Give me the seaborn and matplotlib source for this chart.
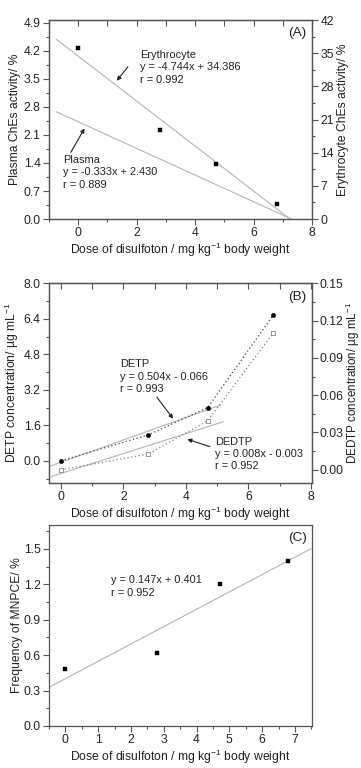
import numpy as np
import pandas as pd
import matplotlib
matplotlib.use("Agg")
import matplotlib.pyplot as plt
from matplotlib.ticker import MultipleLocator, FormatStrFormatter
import seaborn as sns

# ---------------- data ----------------
doses = [0.0, 2.8, 4.7, 6.8]
erythrocyte_activity = [36.0, 18.7, 11.7, 3.2]       # right axis, panel A
detp_conc = [0.0, 1.17, 2.40, 6.57]                  # left axis, panel B
dedtp_conc = [0.0, 0.0126, 0.0394, 0.110]            # right axis, panel B
mnpce_freq = [0.48, 0.62, 1.20, 1.40]                # panel C

# regression coefficients (slope, intercept) and x extents of fitted lines
ery_fit = (-4.744, 34.386)
plasma_fit = (-0.333, 2.430)
detp_fit = (0.504, -0.066)
dedtp_fit = (0.008, -0.003)
mnpce_fit = (0.147, 0.401)
ery_fit_x = [-0.75, 34.386 / 4.744]
plasma_fit_x = [-0.75, 2.430 / 0.333]
detp_fit_x = [-0.38, 5.12]
dedtp_fit_x = [-0.38, 5.2]
mnpce_fit_x = [-0.5, 7.5]

xlabel = "Dose of disulfoton / mg kg$^{-1}$ body weight"

sns.set_style("ticks")
plt.rcParams["font.family"] = ["Liberation Sans", "DejaVu Sans"]
plt.rcParams["mathtext.fontset"] = "custom"
plt.rcParams["mathtext.rm"] = "Liberation Sans"
plt.rcParams["mathtext.it"] = "Liberation Sans"
FS = 8.7
NFS = 7.9
SPINE = "#555555"
FITC = "#b4b4b4"
TXT = "#222222"

fig = plt.figure(figsize=(3.61, 7.68), dpi=100)


def fit_df(coef, xs):
    xs = np.array(xs, dtype=float)
    return pd.DataFrame({"x": xs, "y": coef[0] * xs + coef[1]})


def style_axis(ax, top_ticks=True, pad=2):
    for s in ax.spines.values():
        s.set_color(SPINE)
        s.set_linewidth(0.9)
    ax.tick_params(which="both", direction="out", colors=SPINE, labelcolor=TXT,
                   labelsize=FS, width=0.8, pad=pad)
    ax.tick_params(which="major", length=4)
    ax.tick_params(which="minor", length=2.5)
    if top_ticks:
        sec = ax.secondary_xaxis("top")
        sec.xaxis.set_major_locator(MultipleLocator(1))
        sec.tick_params(direction="in", length=4, width=0.8, colors=SPINE, labeltop=False)
        sec.spines["top"].set_color(SPINE)


def arrow(ax, tail, head):
    ax.annotate("", xy=head, xycoords="axes fraction", xytext=tail, textcoords="axes fraction",
                arrowprops=dict(arrowstyle="-|>", color=TXT, lw=0.8,
                                mutation_scale=6, shrinkA=0, shrinkB=0))


def note(ax, x, y, s):
    ax.text(x, y, s, transform=ax.transAxes, fontsize=NFS, va="top", ha="left",
            linespacing=1.3, color=TXT)


# ---------------- Panel A ----------------
axA = fig.add_axes([0.1357, 0.7148, 0.7285, 0.2591])
axA2 = axA.twinx()
sns.lineplot(data=fit_df(plasma_fit, plasma_fit_x), x="x", y="y", ax=axA, color=FITC, lw=0.8)
sns.lineplot(data=fit_df(ery_fit, ery_fit_x), x="x", y="y", ax=axA2, color=FITC, lw=0.8)
sns.scatterplot(x=doses, y=erythrocyte_activity, ax=axA2, marker="s", color="black",
                s=8, edgecolor="black", linewidth=0.3, zorder=5)
axA.set_xlim(-1, 8)
axA.set_ylim(0, 4.97)
axA2.set_ylim(0, 42)
axA.xaxis.set_major_locator(MultipleLocator(2))
axA.xaxis.set_minor_locator(MultipleLocator(1))
axA.yaxis.set_major_locator(MultipleLocator(0.7))
axA.yaxis.set_minor_locator(MultipleLocator(0.35))
axA2.yaxis.set_major_locator(MultipleLocator(7))
axA2.yaxis.set_minor_locator(MultipleLocator(3.5))
axA.yaxis.set_major_formatter(FormatStrFormatter("%.1f"))
style_axis(axA)
style_axis(axA2, top_ticks=False)
axA.set_xlabel(xlabel, fontsize=FS, labelpad=1, color=TXT)
axA.set_ylabel("Plasma ChEs activity/ %", fontsize=FS, labelpad=2, color=TXT)
axA2.set_ylabel("Erythrocyte ChEs activity/ %", fontsize=FS, labelpad=2, color=TXT)
note(axA, 0.346, 0.85, "Erythrocyte\ny = -4.744x + 34.386\nr = 0.992")
note(axA, 0.054, 0.322, "Plasma\ny = -0.333x + 2.430\nr = 0.889")
arrow(axA, (0.083, 0.335), (0.135, 0.455))
arrow(axA, (0.30, 0.765), (0.258, 0.695))
axA.text(0.98, 0.936, "(A)", transform=axA.transAxes, fontsize=FS + 1, ha="right",
         va="center", color=TXT)

# ---------------- Panel B ----------------
axB = fig.add_axes([0.1357, 0.3711, 0.7285, 0.2600])
axB2 = axB.twinx()
sns.lineplot(data=fit_df(detp_fit, detp_fit_x), x="x", y="y", ax=axB, color=FITC, lw=0.8)
sns.lineplot(data=fit_df(dedtp_fit, dedtp_fit_x), x="x", y="y", ax=axB2, color=FITC, lw=0.8)
sns.lineplot(x=doses, y=detp_conc, ax=axB, color="#444444", lw=0.9, linestyle=(0, (1, 2.0)))
sns.lineplot(x=doses, y=dedtp_conc, ax=axB2, color="#808080", lw=0.9, linestyle=(0, (1, 2.0)))
sns.scatterplot(x=doses, y=detp_conc, ax=axB, marker="o", color="black", s=10,
                edgecolor="black", linewidth=0.3, zorder=5)
sns.scatterplot(x=doses, y=dedtp_conc, ax=axB2, marker="s", facecolor="white", s=10,
                edgecolor="#888888", linewidth=0.6, zorder=5)
axB.set_xlim(-0.385, 8.04)
axB.set_ylim(-1.0, 8.0)
axB2.set_ylim(-0.0107, 0.15)
axB.xaxis.set_major_locator(MultipleLocator(2))
axB.xaxis.set_minor_locator(MultipleLocator(1))
axB.yaxis.set_major_locator(MultipleLocator(1.6))
axB.yaxis.set_minor_locator(MultipleLocator(0.8))
axB2.yaxis.set_major_locator(MultipleLocator(0.03))
axB2.yaxis.set_minor_locator(MultipleLocator(0.015))
axB.yaxis.set_major_formatter(FormatStrFormatter("%.1f"))
axB2.yaxis.set_major_formatter(FormatStrFormatter("%.2f"))
style_axis(axB)
style_axis(axB2, top_ticks=False, pad=1.5)
axB.set_xlabel(xlabel, fontsize=FS, labelpad=1, color=TXT)
axB.set_ylabel("DETP concentration/ µg mL$^{-1}$", fontsize=FS, labelpad=2, color=TXT)
axB2.set_ylabel("DEDTP concentration/ µg mL$^{-1}$", fontsize=FS - 0.3, labelpad=0, color=TXT)
note(axB, 0.27, 0.62, "DETP\ny = 0.504x - 0.066\nr = 0.993")
note(axB, 0.631, 0.232, "DEDTP\ny = 0.008x - 0.003\nr = 0.952")
arrow(axB, (0.41, 0.43), (0.472, 0.322))
arrow(axB, (0.612, 0.182), (0.526, 0.219))
axB.text(0.98, 0.933, "(B)", transform=axB.transAxes, fontsize=FS + 1, ha="right",
         va="center", color=TXT)

# ---------------- Panel C ----------------
axC = fig.add_axes([0.1357, 0.0547, 0.7285, 0.2617])
sns.lineplot(data=fit_df(mnpce_fit, mnpce_fit_x), x="x", y="y", ax=axC, color=FITC, lw=0.8)
sns.scatterplot(x=doses, y=mnpce_freq, ax=axC, marker="s", color="black", s=8,
                edgecolor="black", linewidth=0.3, zorder=5)
axC.set_xlim(-0.5, 7.52)
axC.set_ylim(0, 1.703)
axC.xaxis.set_major_locator(MultipleLocator(1))
axC.xaxis.set_minor_locator(MultipleLocator(0.5))
axC.yaxis.set_major_locator(MultipleLocator(0.3))
axC.yaxis.set_minor_locator(MultipleLocator(0.15))
axC.yaxis.set_major_formatter(FormatStrFormatter("%.1f"))
style_axis(axC, top_ticks=False)
axC.set_xlabel(xlabel, fontsize=FS, labelpad=1, color=TXT)
axC.set_ylabel("Frequency of MNPCE/ %", fontsize=FS, labelpad=0.5, color=TXT)
note(axC, 0.236, 0.75, "y = 0.147x + 0.401\nr = 0.952")
axC.text(0.98, 0.934, "(C)", transform=axC.transAxes, fontsize=FS + 1, ha="right",
         va="center", color=TXT)

for ax in (axA, axA2, axB, axB2, axC):
    leg = ax.get_legend()
    if leg:
        leg.remove()

fig.savefig("out.png", dpi=100, facecolor="white")
